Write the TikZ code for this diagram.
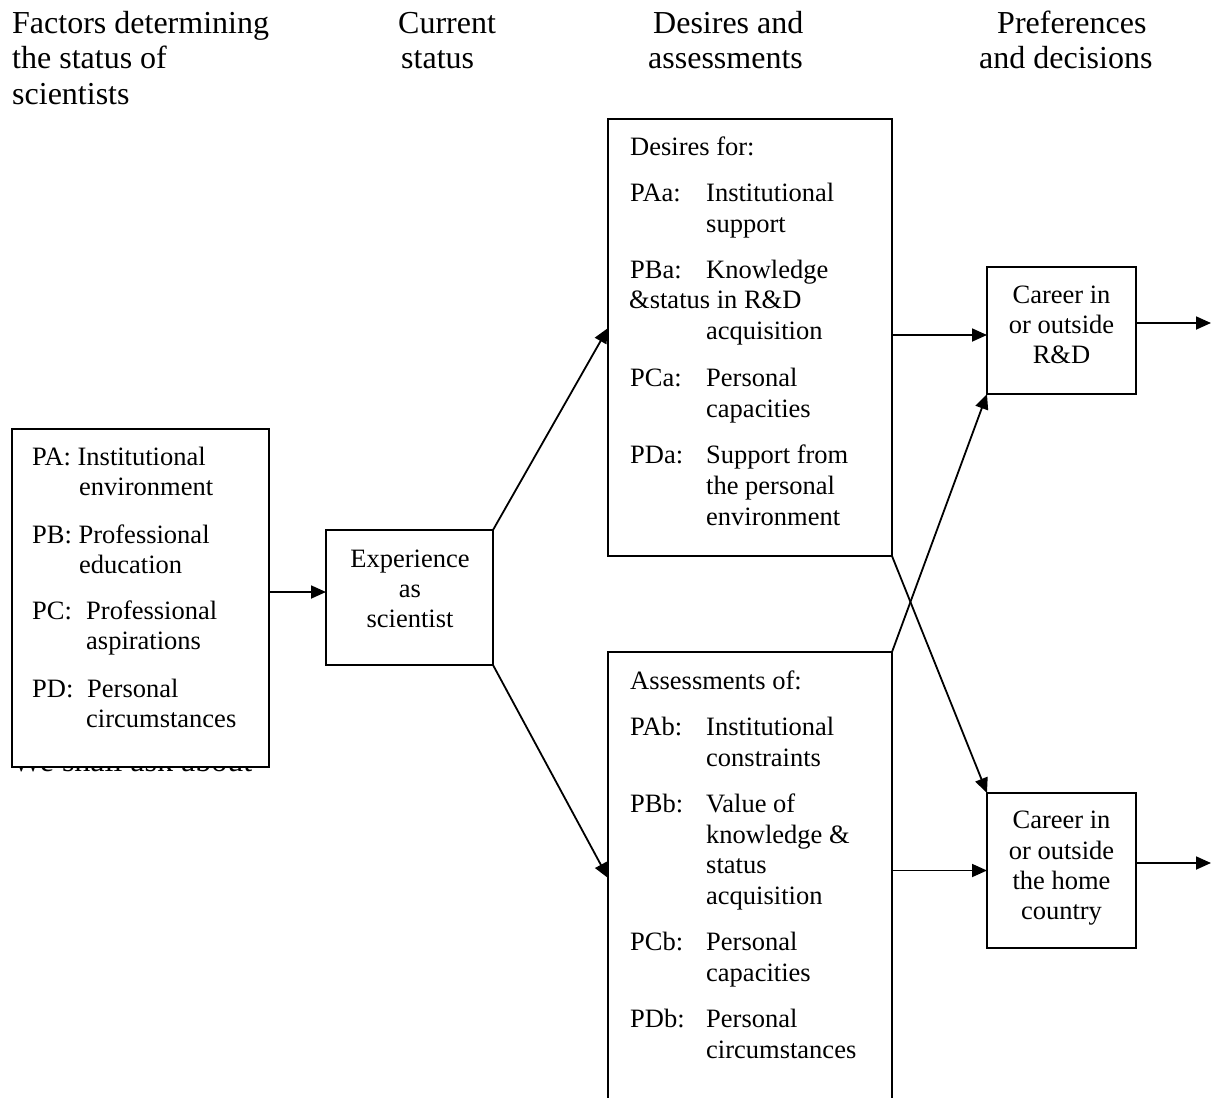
\documentclass[tikz,border=0pt]{standalone}
\usepackage{fontspec}
\setmainfont{Liberation Serif}
\usetikzlibrary{arrows.meta}
\tikzset{
  box/.style={draw, line width=1.8pt, fill=white, inner sep=0pt, outer sep=0pt},
  arr/.style={line width=1.8pt, -{Triangle[length=15pt,width=13pt]}},
  hd/.style={anchor=base west, inner sep=0pt, font=\fontsize{32}{36}\selectfont},
  tx/.style={anchor=base west, inner sep=0pt, font=\fontsize{26.5}{30}\selectfont},
  tc/.style={anchor=base, inner sep=0pt, font=\fontsize{26.5}{30}\selectfont},
}
\begin{document}
\begin{tikzpicture}[x=1pt,y=-1pt]
\useasboundingbox (0,0) rectangle (1211,1098);
\fill[white] (0,0) rectangle (1211,1098);

% column headers
\node[hd] (h1a) at (12,33) {Factors determining};
\node[hd] (h1b) at (12,68.5) {the status of};
\node[hd] (h1c) at (12,104) {scientists};
\node[hd] (h2a) at (398,33) {Current};
\node[hd] (h2b) at (401,68.5) {status};
\node[hd] (h3a) at (653,33) {Desires and};
\node[hd] (h3b) at (648,68.5) {assessments};
\node[hd] (h4a) at (997,33) {Preferences};
\node[hd] (h4b) at (979,68.5) {and decisions};

% partly hidden text
\node[hd] (ask) at (12,771) {We shall ask about};

% boxes
\node[box, minimum width=257pt, minimum height=338pt] (fac) at (140.5,598) {};
\node[box, minimum width=167pt, minimum height=135pt] (exp) at (409.5,597.5) {};
\node[box, minimum width=284pt, minimum height=437pt] (des) at (750,337.5) {};
\node[box, minimum width=284pt, minimum height=468pt] (ass) at (750,886) {};
\node[box, minimum width=149pt, minimum height=127pt] (crd) at (1061.5,330.5) {};
\node[box, minimum width=149pt, minimum height=155pt] (chm) at (1061.5,870.5) {};

% factors text
\node[tx] (pa) at (32,465) {PA: Institutional};
\node[tx] (pa2) at (79,495) {environment};
\node[tx] (pb) at (32,543) {PB: Professional};
\node[tx] (pb2) at (79,573) {education};
\node[tx] (pc) at (32,619) {PC:};
\node[tx] (pc1) at (86,619) {Professional};
\node[tx] (pc2) at (86,649) {aspirations};
\node[tx] (pd) at (32,697) {PD:};
\node[tx] (pd1) at (87,697) {Personal};
\node[tx] (pd2) at (86,727) {circumstances};

% experience text
\node[tc] (e1) at (410,567) {Experience};
\node[tc] (e2) at (410,597) {as};
\node[tc] (e3) at (410,627) {scientist};

% desires text
\node[tx] (d0) at (630,155) {Desires for:};
\node[tx] (da) at (630,201) {PAa:};
\node[tx] (da1) at (706,201) {Institutional};
\node[tx] (da2) at (706,232) {support};
\node[tx] (db) at (630,278) {PBa:};
\node[tx] (db1) at (706,278) {Knowledge};
\node[tx] (db2) at (629,308) {\&status in R\&D};
\node[tx] (db3) at (706,339) {acquisition};
\node[tx] (dc) at (630,386) {PCa:};
\node[tx] (dc1) at (706,386) {Personal};
\node[tx] (dc2) at (706,417) {capacities};
\node[tx] (dd) at (630,463) {PDa:};
\node[tx] (dd1) at (706,463) {Support from};
\node[tx] (dd2) at (706,494) {the personal};
\node[tx] (dd3) at (706,525) {environment};

% assessments text
\node[tx] (a0) at (630,689) {Assessments of:};
\node[tx] (aa) at (630,735) {PAb:};
\node[tx] (aa1) at (706,735) {Institutional};
\node[tx] (aa2) at (706,766) {constraints};
\node[tx] (ab) at (630,812) {PBb:};
\node[tx] (ab1) at (706,812) {Value of};
\node[tx] (ab2) at (706,843) {knowledge \&};
\node[tx] (ab3) at (706,873) {status};
\node[tx] (ab4) at (706,904) {acquisition};
\node[tx] (ac) at (630,950) {PCb:};
\node[tx] (ac1) at (706,950) {Personal};
\node[tx] (ac2) at (706,981) {capacities};
\node[tx] (ad) at (630,1027) {PDb:};
\node[tx] (ad1) at (706,1027) {Personal};
\node[tx] (ad2) at (706,1058) {circumstances};

% career texts
\node[tc] (r1) at (1061.5,303) {Career in};
\node[tc] (r2) at (1061.5,333) {or outside};
\node[tc] (r3) at (1061.5,363) {R\&D};
\node[tc] (k1) at (1061.5,828) {Career in};
\node[tc] (k2) at (1061.5,859) {or outside};
\node[tc] (k3) at (1061.5,889) {the home};
\node[tc] (k4) at (1061.5,919) {country};

% free ends
\coordinate (out1) at (1211,323);
\coordinate (out2) at (1211,863);
\coordinate (desin) at ([yshift=9.5pt]des.west);
\coordinate (assin) at ([yshift=8pt]ass.west);
\coordinate (crdin) at ([yshift=-4.5pt]crd.west);
\coordinate (facout) at ([yshift=6pt]fac.east);

% connectors
\draw[arr] (facout) -- (facout -| exp.west);
\draw[arr] (exp.north east) -- (desin);
\draw[arr] (exp.south east) -- (assin);
\draw[arr] (crdin -| des.east) -- (crdin);
\draw[arr] (chm.west -| ass.east) -- (chm.west);
\draw[arr] (des.south east) -- (chm.north west);
\draw[arr] (ass.north east) -- (crd.south west);
\draw[arr] (crd.east |- out1) -- (out1);
\draw[arr] (chm.east |- out2) -- (out2);
\end{tikzpicture}
\end{document}
